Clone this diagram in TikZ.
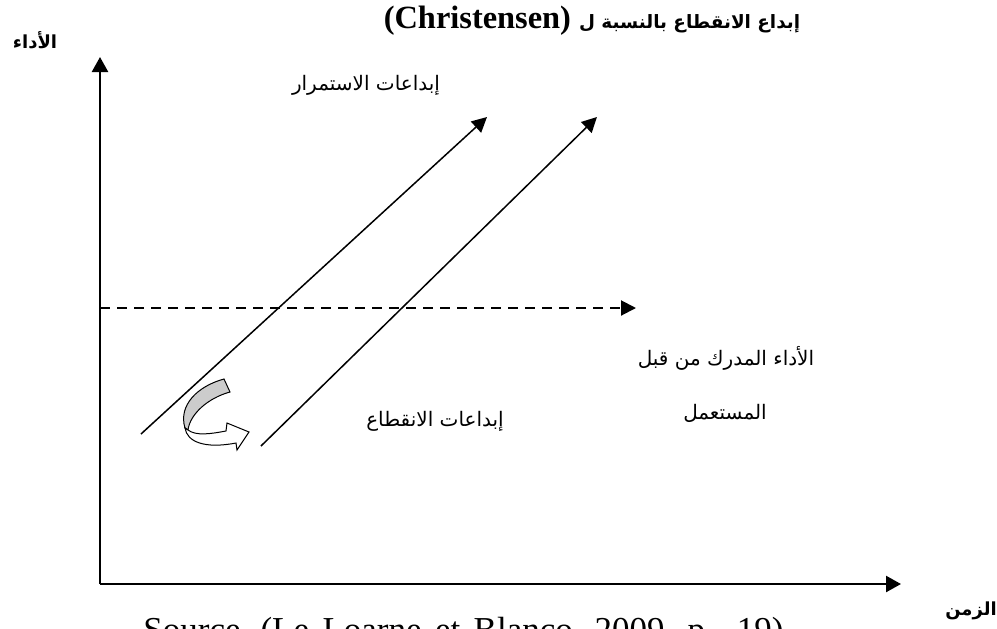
\documentclass[tikz,border=0pt]{standalone}
\usepackage{fontspec}
\setmainfont{Liberation Serif}
\newfontfamily\arabicfont[Script=Arabic]{DejaVu Sans}
\TeXXeTstate=1
\usetikzlibrary{arrows.meta}

\begin{document}
\begin{tikzpicture}[x=0.5pt, y=-0.5pt,
  axis/.style={line width=1.2pt, -{Triangle[length=7.5pt, width=8pt]}},
  trend/.style={line width=0.75pt, -{Triangle[length=7.5pt, width=7.5pt]}},
  lbl/.style={font=\arabicfont\fontsize{10}{12}\selectfont, inner sep=0pt},
  axlbl/.style={font=\arabicfont\bfseries\fontsize{9}{11}\selectfont, inner sep=0pt}]
\clip (0,0) rectangle (997,628);

% Axes
\coordinate (o) at (100,584);
\coordinate (ytip) at (100,57);
\coordinate (xtip) at (901,584);
\draw[axis] (o) -- (ytip);
\draw[axis] (o) -- (xtip);
\node[axlbl] (perf) at (35,40) {\beginR الأداء\endR};
\node[axlbl] (time) at (971,611) {\beginR الزمن\endR};

% Title
\node[anchor=base, inner sep=0pt, font=\bfseries\fontsize{16.2}{19}\selectfont] (title) at (592,28)
{\beginR{\arabicfont\fontsize{9.2}{11}\selectfont إبداع الانقطاع بالنسبة ل} \beginL(Christensen)\endL\endR};

% Perceived performance
\coordinate (d0) at (100,308);
\coordinate (d1) at (636,308);
\draw[line width=1pt, dash pattern=on 5pt off 3.5pt, -{Triangle[length=7.5pt, width=7.5pt]}] (d0) -- (d1);
\node[lbl] (user1) at (726,358) {\beginR الأداء المدرك من قبل\endR};
\node[lbl] (user2) at (725,413) {\beginR المستعمل\endR};

% Sustaining and disruptive lines
\coordinate (a0) at (141,434);
\coordinate (a1) at (487,117);
\coordinate (b0) at (261,446);
\coordinate (b1) at (597,117);
\draw[trend] (a0) -- (a1);
\draw[trend] (b0) -- (b1);
\node[lbl] (cont) at (366,85) {\beginR إبداعات الاستمرار\endR};
\node[lbl] (disc) at (435,421) {\beginR إبداعات الانقطاع\endR};

% Jump arrow
\filldraw[fill=gray!40, line width=0.5pt] (224,379) .. controls (198,386) and (178,405) .. (185,428)
  -- (188,430) .. controls (190,414) and (208,398) .. (230,392) -- cycle;
\filldraw[fill=white, line width=0.5pt] (185,428) .. controls (187,442) and (205,449) .. (236,443)
  -- (237,450) -- (249,432) -- (227,423) -- (226,431) .. controls (210,434) and (196,436) .. (188,430) -- cycle;

% Source (cut at the bottom)
\node[anchor=base west, inner sep=0pt, font=\fontsize{17.5}{20}\selectfont] (src) at (143,641)
{Source\hspace{10pt}(Le\hspace{6.7pt}Loarne\hspace{6.7pt}et\hspace{6.7pt}Blanco,\hspace{6.5pt}2009\hspace{11.5pt}p.\hspace{11.5pt}19)};
\end{tikzpicture}
\end{document}
